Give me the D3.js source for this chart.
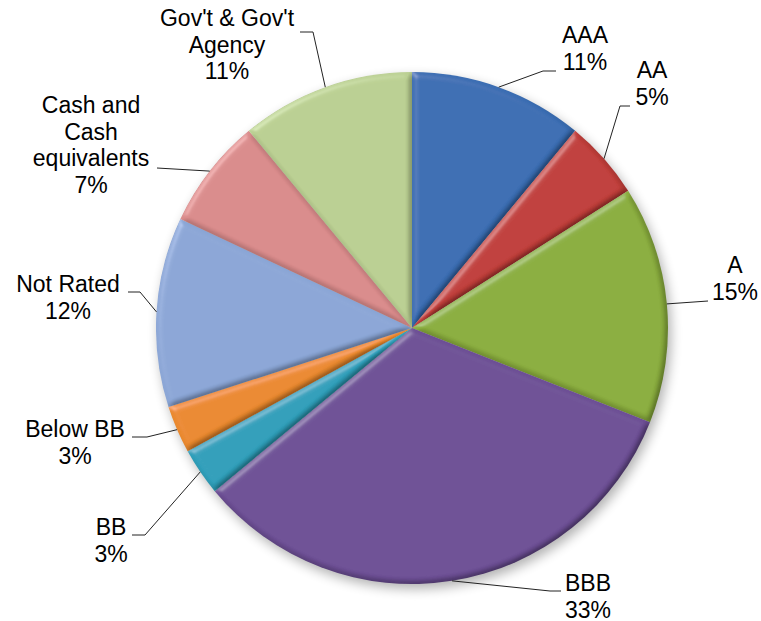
<!DOCTYPE html>
<html>
<head>
<meta charset="utf-8">
<script src="https://cdn.jsdelivr.net/npm/d3@7"></script>
<style>
  body { margin: 0; background: #fff; }
  svg { display: block; }
  text { font-family: "Liberation Sans", Arial, sans-serif; font-size: 23px; fill: #000; }
</style>
</head>
<body>
<svg id="chart" width="761" height="621"></svg>
<script>
// data
var categories = ["AAA", "AA", "A", "BBB", "BB", "Below BB", "Not Rated", "Cash and\nCash\nequivalents", "Gov't & Gov't\nAgency"];
var shares = [11, 5, 15, 33, 3, 3, 12, 7, 11];
var pctLabels = ["11%", "5%", "15%", "33%", "3%", "3%", "12%", "7%", "11%"];
var colors = ["#3a6db2", "#c03e3a", "#8aad3e", "#6d4f95", "#2f9fba", "#ea892e", "#8ba6d6", "#d98b8b", "#bacf92"];

// label layout: text centre x, first baseline y, leader points after the pie edge
var layout = [
  {x: 585, y: 43,  pts: [[543, 71], [556, 71]]},
  {x: 652, y: 78,  pts: [[620, 106], [630, 106]]},
  {x: 735, y: 273, pts: [[708, 301]]},
  {x: 588, y: 591, pts: [[550, 591], [561, 591]]},
  {x: 111, y: 535, pts: [[145, 535], [132, 535]]},
  {x: 75,  y: 437, pts: [[147, 437], [132, 437]]},
  {x: 68,  y: 292, pts: [[140, 292], [128, 292]]},
  {x: 91,  y: 113, pts: [[157, 168]]},
  {x: 227, y: 26,  pts: [[313, 32], [300, 32]]}
];

var cx = 412, cy = 328, r = 256, lineH = 26.5;
var svg = d3.select("#chart");
var defs = svg.append("defs");

var sh = defs.append("filter").attr("id", "shadow")
  .attr("x", "-20%").attr("y", "-20%").attr("width", "140%").attr("height", "140%");
sh.append("feGaussianBlur").attr("stdDeviation", 6);

var bev = defs.append("filter").attr("id", "bevel")
  .attr("x", "-5%").attr("y", "-5%").attr("width", "110%").attr("height", "110%");
bev.append("feGaussianBlur").attr("in", "SourceAlpha").attr("stdDeviation", 3.2).attr("result", "b");
bev.append("feDiffuseLighting").attr("in", "b").attr("surfaceScale", 3).attr("diffuseConstant", 1.25)
  .attr("lighting-color", "#fff").attr("result", "d")
  .append("feDistantLight").attr("azimuth", 225).attr("elevation", 55);
bev.append("feComposite").attr("in", "SourceGraphic").attr("in2", "d")
  .attr("operator", "arithmetic").attr("k1", 1).attr("k2", 0).attr("k3", 0).attr("k4", 0).attr("result", "lit");
bev.append("feSpecularLighting").attr("in", "b").attr("surfaceScale", 3).attr("specularConstant", 0.5)
  .attr("specularExponent", 30).attr("lighting-color", "#fff").attr("result", "s")
  .append("feDistantLight").attr("azimuth", 225).attr("elevation", 40);
bev.append("feComposite").attr("in", "s").attr("in2", "SourceAlpha").attr("operator", "in").attr("result", "s2");
bev.append("feComposite").attr("in", "lit").attr("in2", "s2")
  .attr("operator", "arithmetic").attr("k1", 0).attr("k2", 1).attr("k3", 0.35).attr("k4", 0);

var pie = d3.pie().sort(null).value(function(d){ return d; });
var arcs = pie(shares);
var arc = d3.arc().innerRadius(0).outerRadius(r);

var g = svg.append("g").attr("transform", "translate(" + cx + "," + cy + ")");

g.append("circle").attr("cx", 3).attr("cy", 5).attr("r", r)
  .attr("fill", "#000").attr("opacity", 0.3).attr("filter", "url(#shadow)");

g.selectAll("path.slice").data(arcs).enter().append("path")
  .attr("class", "slice")
  .attr("d", arc)
  .attr("fill", function(d, i){ return colors[i]; })
  .attr("filter", "url(#bevel)");

// leader lines start on the rim at the middle of each slice
svg.selectAll("polyline.leader").data(arcs).enter().append("polyline")
  .attr("class", "leader")
  .attr("points", function(d, i){
    var a = (d.startAngle + d.endAngle) / 2;
    var p = [[cx + r * Math.sin(a), cy - r * Math.cos(a)]].concat(layout[i].pts);
    return p.map(function(q){ return q.join(","); }).join(" ");
  })
  .attr("fill", "none").attr("stroke", "#222").attr("stroke-width", 1);

var labels = svg.selectAll("text.lbl").data(categories).enter().append("text")
  .attr("class", "lbl")
  .attr("text-anchor", "middle");
labels.each(function(name, i){
  var lines = name.split("\n").concat([pctLabels[i]]);
  var t = d3.select(this);
  lines.forEach(function(s, k){
    t.append("tspan").attr("x", layout[i].x).attr("y", layout[i].y + k * lineH).text(s);
  });
});
</script>
</body>
</html>
